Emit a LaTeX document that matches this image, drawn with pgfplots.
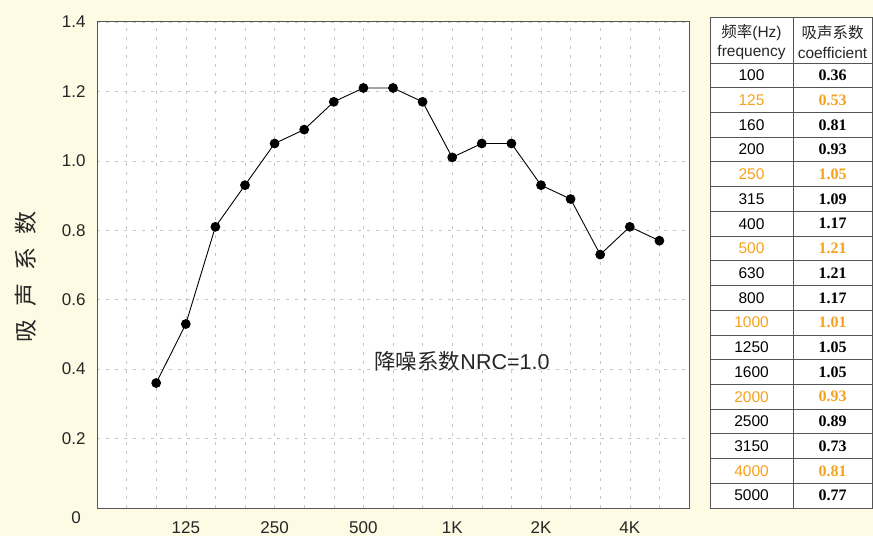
\documentclass[border=0pt]{standalone}
\usepackage{pgfplots}
\pgfplotsset{compat=1.18}
\usepackage{fontspec}
\setmainfont{Liberation Sans}
\newfontfamily\cjk{Noto Sans CJK SC}
\newfontfamily\serifb{Liberation Serif}
\definecolor{bg}{HTML}{FDFBE4}
\definecolor{orng}{HTML}{F7A21B}
\definecolor{frame}{HTML}{555555}
\begin{document}
\begin{tikzpicture}[x=1pt,y=1pt]
\fill[bg] (0,0) rectangle (873,536);
\begin{axis}[at={(97pt,28pt)}, anchor=south west,
  width=592pt, height=486pt, scale only axis,
  xmin=-2, xmax=18, ymin=0, ymax=1.4,
  axis background/.style={fill=white},
  axis line style={frame, line width=1pt},
  xtick={1,4,7,10,13,16},
  xticklabels={125,250,500,1K,2K,4K},
  minor xtick={-1,0,2,3,5,6,8,9,11,12,14,15,17},
  ytick={0,0.2,0.4,0.6,0.8,1.0,1.2,1.4},
  yticklabels={{},0.2,0.4,0.6,0.8,1.0,1.2,1.4},
  major tick length=0pt, minor tick length=0pt,
  grid=both,
  major grid style={gray!45, dash pattern=on 3pt off 6pt, line width=0.5pt},
  minor grid style={gray!45, dash pattern=on 3pt off 6pt, line width=0.5pt},
  ticklabel style={font=\fontsize{17}{20}\selectfont, text=black!85},
  /pgf/number format/assume math mode=true,
  xticklabel style={yshift=-10pt},
  yticklabel style={xshift=-8pt},
]
\addplot[black, line width=0.9pt, mark=*, mark size=4.4pt, mark options={fill=black}]
coordinates {
(0,0.36)(1,0.53)(2,0.81)(3,0.93)(4,1.05)(5,1.09)(6,1.17)(7,1.21)(8,1.21)
(9,1.17)(10,1.01)(11,1.05)(12,1.05)(13,0.93)(14,0.89)(15,0.73)(16,0.81)(17,0.77)
};
\end{axis}
\node[anchor=east, inner sep=0pt, font=\fontsize{17}{20}\selectfont, text=black!85] at (81,18) {0};
\node[font=\fontsize{21.5}{24}\selectfont, text=black!85] at (462,175) {{\cjk 降噪系数}NRC=1.0};
\node[rotate=90, font=\cjk\fontsize{23}{26}\selectfont, text=black!85] at (26,259)
  {吸\hspace{13pt}声\hspace{13pt}系\hspace{13pt}数};
% table
\fill[white] (710,518) rectangle (872,28);
\node[font=\fontsize{15.5}{18}\selectfont, text=black!85] at (751.5,503) {{\cjk 频率}(Hz)};
\node[font=\fontsize{15.5}{18}\selectfont, text=black!85] at (751.5,483) {frequency};
\node[font=\fontsize{15.5}{18}\selectfont, text=black!85] at (832.5,503) {{\cjk 吸声系数}};
\node[font=\fontsize{15.5}{18}\selectfont, text=black!85] at (832.5,483) {coefficient};
\foreach \f/\c/\col [count=\i from 0] in {100/0.36/black, 125/0.53/orng, 160/0.81/black, 200/0.93/black, 250/1.05/orng, 315/1.09/black, 400/1.17/black, 500/1.21/orng, 630/1.21/black, 800/1.17/black, 1000/1.01/orng, 1250/1.05/black, 1600/1.05/black, 2000/0.93/orng, 2500/0.89/black, 3150/0.73/black, 4000/0.81/orng, 5000/0.77/black}{
  \pgfmathsetmacro{\yy}{536-63-24.72*(\i+0.5)}
  \pgfmathsetmacro{\yl}{536-63-24.72*\i}
  \draw[frame, line width=0.8pt] (710,\yl) -- (872,\yl);
  \node[font=\fontsize{15.5}{18}\selectfont, text=\col] at (751.5,\yy) {\f};
  \node[font=\serifb\bfseries\fontsize{16}{18}\selectfont, text=\col] at (832.5,\yy) {\c};
}
\draw[frame, line width=1pt] (710,518) rectangle (872,28);
\draw[frame, line width=0.8pt] (793,518) -- (793,28);
\end{tikzpicture}
\end{document}
